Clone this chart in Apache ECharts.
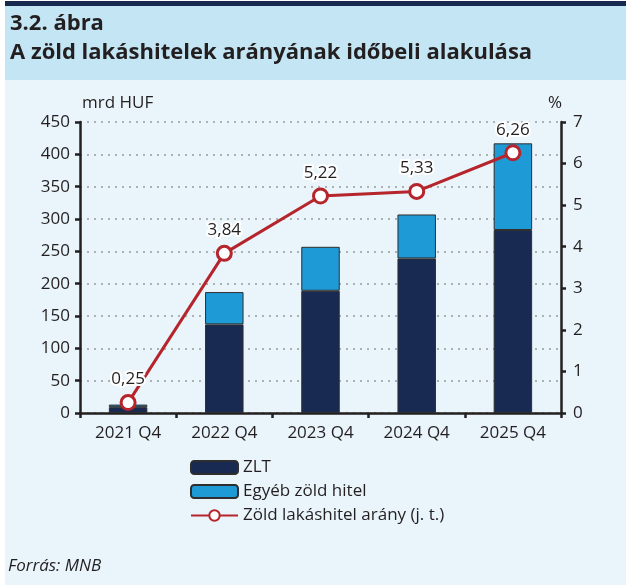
<!DOCTYPE html>
<html>
<head>
<meta charset="utf-8">
<script src="https://cdn.jsdelivr.net/npm/echarts@6/dist/echarts.min.js"></script>
<style>
  html, body { margin: 0; padding: 0; background: #fff; }
  #chart { width: 626px; height: 585px; }
</style>
</head>
<body>
<div id="chart"></div>
<script>
// adatok
var categories = ["2021 Q4", "2022 Q4", "2023 Q4", "2024 Q4", "2025 Q4"];
var zlt = [9, 137, 189, 239, 283];          // mrd HUF
var egyeb = [4, 50, 68, 68, 134];           // mrd HUF
var arany = [0.25, 3.84, 5.22, 5.33, 6.26]; // %, jobb tengely

var font = "'Open Sans', Lato, sans-serif";
var textColor = "#231f20";

var chart = echarts.init(document.getElementById("chart"));

var option = {
  animation: false,
  textStyle: { fontFamily: font },
  graphic: [
    { type: "rect", shape: { x: 5, y: 80, width: 621, height: 505 }, style: { fill: "#e9f4fb" }, z: -10 },
    { type: "rect", shape: { x: 5, y: 6, width: 621, height: 74 }, style: { fill: "#c3e5f4" }, z: -10 },
    { type: "rect", shape: { x: 5, y: 1, width: 621, height: 5 }, style: { fill: "#17294f" }, z: -10 },
    {
      type: "text", left: 10, top: 13,
      style: { text: "3.2. ábra", font: "bold 22px " + font, fill: textColor }
    },
    {
      type: "text", left: 10, top: 42,
      style: { text: "A zöld lakáshitelek arányának időbeli alakulása", font: "bold 22px " + font, fill: textColor }
    },
    {
      type: "text", left: 82, top: 95,
      style: { text: "mrd HUF", font: "17px " + font, fill: textColor }
    },
    {
      type: "text", left: 548, top: 95,
      style: { text: "%", font: "17px " + font, fill: textColor }
    },
    {
      type: "text", left: 8, top: 558,
      style: { text: "Forrás: MNB", font: "italic 17px " + font, fill: textColor }
    }
  ],
  legend: {
    orient: "vertical",
    left: 185,
    top: 454,
    itemWidth: 47,
    itemHeight: 13,
    itemGap: 7,
    textStyle: { fontSize: 17, color: textColor, fontFamily: font },
    data: ["ZLT", "Egyéb zöld hitel", "Zöld lakáshitel arány (j. t.)"]
  },
  grid: { left: 80, right: 65, top: 122, bottom: 172 },
  xAxis: {
    type: "category",
    data: categories,
    axisLine: { lineStyle: { color: "#231f20", width: 2.5 } },
    axisTick: { show: true, length: 5, lineStyle: { width: 2.5, color: "#231f20" } },
    axisLabel: { fontSize: 17, color: textColor, margin: 12 }
  },
  yAxis: [
    {
      type: "value", min: 0, max: 450, interval: 50,
      axisLine: { show: true, lineStyle: { color: "#231f20", width: 2.5 } },
      axisTick: { show: true, length: 5, lineStyle: { width: 2.5 } },
      axisLabel: { fontSize: 17, color: textColor, margin: 10 },
      splitLine: { show: true, lineStyle: { color: "#9a9a9a", type: [2, 5], width: 1.5 } }
    },
    {
      type: "value", min: 0, max: 7, interval: 1,
      axisLine: { show: true, lineStyle: { color: "#231f20", width: 2.5 } },
      axisTick: { show: true, length: 5, lineStyle: { width: 2.5 } },
      axisLabel: { fontSize: 17, color: textColor, margin: 12 },
      splitLine: { show: false }
    }
  ],
  series: [
    {
      name: "ZLT",
      type: "bar",
      stack: "hitel",
      barWidth: "40%",
      data: zlt,
      itemStyle: { color: "#182a52", borderColor: "#2e2e2e", borderWidth: 1 }
    },
    {
      name: "Egyéb zöld hitel",
      type: "bar",
      stack: "hitel",
      data: egyeb,
      itemStyle: { color: "#1e9ad6", borderColor: "#2e2e2e", borderWidth: 1 }
    },
    {
      name: "Zöld lakáshitel arány (j. t.)",
      type: "line",
      yAxisIndex: 1,
      data: arany,
      symbol: "circle",
      symbolSize: 14,
      lineStyle: { color: "#b5252b", width: 3 },
      itemStyle: { color: "#ffffff", borderColor: "#b5252b", borderWidth: 3 },
      label: {
        show: true,
        position: "top",
        distance: 6,
        fontSize: 17,
        color: textColor,
        textBorderColor: "#ffffff",
        textBorderWidth: 4,
        formatter: function (p) { return p.value.toFixed(2).replace(".", ","); }
      },
      z: 5
    }
  ]
};

chart.setOption(option);
</script>
</body>
</html>
